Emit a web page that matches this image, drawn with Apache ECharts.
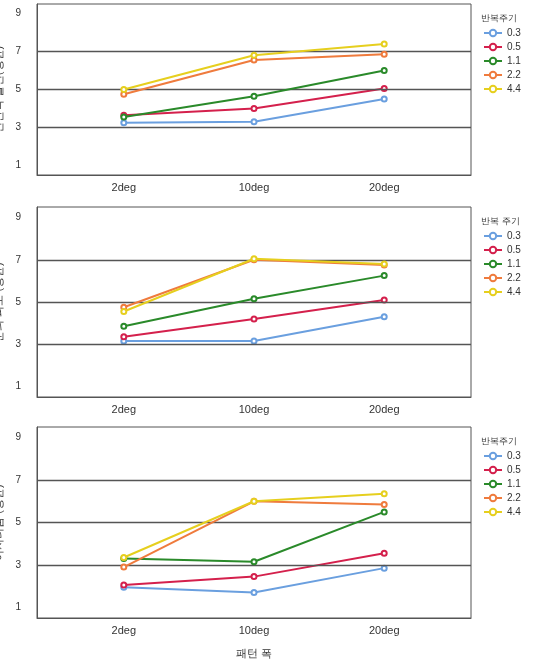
<!DOCTYPE html>
<html><head><meta charset="utf-8">
<script src="https://cdn.jsdelivr.net/npm/echarts@6/dist/echarts.min.js"></script>
<style>body{margin:0;background:#fff}#c{width:533px;height:666px}</style>
</head><body><div id="c"></div>
<script>
var categories = ['2deg', '10deg', '20deg'];
var periods = ['0.3', '0.5', '1.1', '2.2', '4.4'];
var yTicks = [1, 3, 5, 7, 9];
var panelNames = ['전반적 불편(평균)', '눈의 피로 (평균)', '어지러움 (평균)'];
var legendTitles = ['반복주기', '반복 주기', '반복주기'];
var overall = [[3.25, 3.3, 4.5], [3.65, 4.0, 5.05], [3.55, 4.65, 6.0], [4.75, 6.55, 6.85], [5.0, 6.8, 7.4]];
var eyeStrain = [[3.15, 3.15, 4.3], [3.35, 4.2, 5.1], [3.85, 5.15, 6.25], [4.75, 7.0, 6.75], [4.55, 7.05, 6.8]];
var dizziness = [[1.95, 1.7, 2.85], [2.05, 2.45, 3.55], [3.3, 3.15, 5.5], [2.9, 6.0, 5.85], [3.35, 6.0, 6.35]];
var colors = ['#6a9fdf', '#d4204c', '#2a8a2a', '#ef7b3d', '#e6cf1e'];

var panels = [overall, eyeStrain, dizziness];
var boxes = [[4, 175], [207, 397], [427, 618]];
var xPos = [0, 3, 6];

var option = {animation: false, grid: [], xAxis: [], yAxis: [], series: [], legend: [], title: []};
panels.forEach(function (data, p) {
    option.grid.push({left: 37, width: 434, top: boxes[p][0], height: boxes[p][1] - boxes[p][0],
        outerBoundsMode: 'none', containLabel: false,
        show: true, borderColor: '#555', borderWidth: 1});
    option.xAxis.push({type: 'value', gridIndex: p, min: -2, max: 8,
        axisLine: {onZero: false, lineStyle: {color: '#555'}}, axisTick: {show: false}, splitLine: {show: false},
        axisLabel: {customValues: xPos, formatter: function (v) { return categories[xPos.indexOf(v)]; },
            color: '#333', fontSize: 11, margin: 7},
        name: p === 2 ? '패턴 폭' : '', nameLocation: 'middle', nameGap: 30,
        nameTextStyle: {color: '#333', fontSize: 11}});
    option.yAxis.push({type: 'value', gridIndex: p, min: 0.5, max: 9.5,
        axisLine: {show: true, onZero: false, lineStyle: {color: '#555'}}, axisTick: {show: false}, splitLine: {show: false},
        axisLabel: {customValues: yTicks, color: '#333', fontSize: 10, margin: 16},
        name: panelNames[p], nameLocation: 'middle', nameGap: 22,
        nameTextStyle: {color: '#333', fontSize: 11}});
    data.forEach(function (vals, s) {
        var ser = {type: 'line', name: periods[s], xAxisIndex: p, yAxisIndex: p,
            data: vals.map(function (v, i) { return [xPos[i], v]; }),
            color: colors[s], lineStyle: {width: 2}, symbol: 'emptyCircle', symbolSize: 5, z: 3 + s};
        if (s === 0) {
            ser.markLine = {silent: true, symbol: 'none', label: {show: false},
                lineStyle: {color: '#555', type: 'solid', width: 1.3},
                data: [{yAxis: 3}, {yAxis: 5}, {yAxis: 7}]};
        }
        option.series.push(ser);
    });
    option.title.push({text: legendTitles[p], left: 476, top: boxes[p][0] + 5,
        textStyle: {fontSize: 9, fontWeight: 'normal', color: '#333'}});
    option.legend.push({data: periods, orient: 'vertical', left: 478, top: boxes[p][0] + 19,
        itemWidth: 18, itemHeight: 8, itemGap: 4, textStyle: {fontSize: 10, color: '#333'}});
});

var chart = echarts.init(document.getElementById('c'));
chart.setOption(option);
</script></body></html>
